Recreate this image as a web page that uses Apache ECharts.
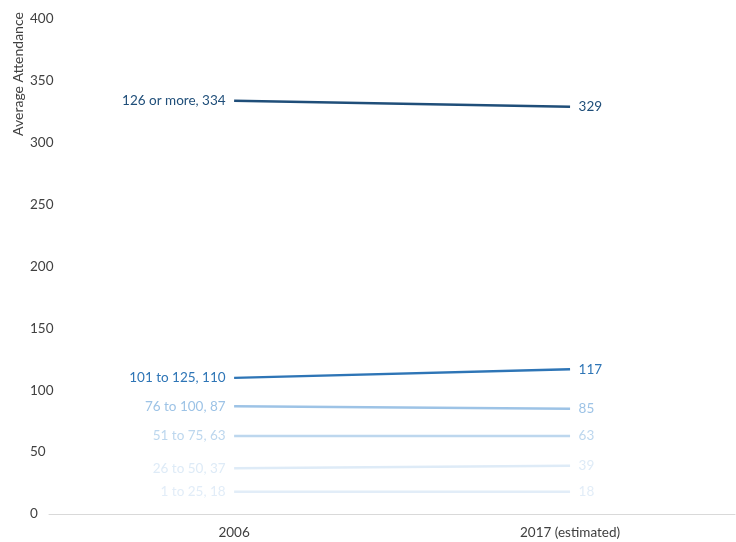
<!DOCTYPE html>
<html><head><meta charset="utf-8">
<script src="https://cdn.jsdelivr.net/npm/echarts@6/dist/echarts.min.js"></script>
<style>html,body{margin:0;padding:0;background:#fff}#c{width:736px;height:542px}</style>
</head><body><div id="c"></div>
<script>
const categories = ['2006', '2017 (estimated)'];
const groupNames = ['126 or more', '101 to 125', '76 to 100', '51 to 75', '26 to 50', '1 to 25'];
const values2006 = [334, 110, 87, 63, 37, 18];
const values2017 = [329, 117, 85, 63, 39, 18];
const yTicks = [0, 50, 100, 150, 200, 250, 300, 350, 400];
const colors = ['#1f4e79', '#2e75b6', '#9dc3e6', '#bdd7ee', '#deebf7', '#e2edf8'];

const FONT = 'Lato, "Open Sans", sans-serif';
const series = groupNames.map((name, i) => ({
  type: 'line', name: name,
  symbol: 'circle', symbolSize: 1, showSymbol: true,
  lineStyle: { color: colors[i], width: 2.5 },
  itemStyle: { color: 'rgba(0,0,0,0)' },
  data: [
    { value: [0, values2006[i]], label: { show: true, position: 'left', distance: 8, formatter: name + ', ' + values2006[i] } },
    { value: [1, values2017[i]], label: { show: true, position: 'right', distance: 8, formatter: String(values2017[i]) } }
  ],
  label: { show: true, color: colors[i], opacity: 1, fontSize: 13.5, fontFamily: FONT },
  emphasis: { disabled: true },
  silent: true
}));

const chart = echarts.init(document.getElementById('c'));
chart.setOption({
  animation: false,
  grid: { left: 49, right: 1, top: 19, bottom: 28, containLabel: false },
  xAxis: {
    type: 'value', min: -0.551, max: 1.491,
    splitLine: { show: false },
    axisLine: { show: true, onZero: false, lineStyle: { color: '#d9d9d9', width: 1 } },
    axisTick: { show: false },
    axisLabel: {
      customValues: [0, 1],
      formatter: v => categories[Math.round(v)] || '',
      color: '#404040', fontSize: 13.5, fontFamily: FONT, margin: 12
    }
  },
  yAxis: {
    type: 'value', min: yTicks[0], max: yTicks[yTicks.length - 1], interval: 50,
    splitLine: { show: false },
    axisLine: { show: false }, axisTick: { show: false },
    axisLabel: { color: '#404040', fontSize: 13.5, fontFamily: FONT, margin: 19, align: 'left' }
  },
  graphic: [{
    type: 'text', x: 18, y: 74, rotation: Math.PI / 2,
    style: { text: 'Average Attendance', fill: '#404040', fontSize: 14, fontFamily: FONT, align: 'center', verticalAlign: 'middle' }
  }],
  series: series
});
</script></body></html>
